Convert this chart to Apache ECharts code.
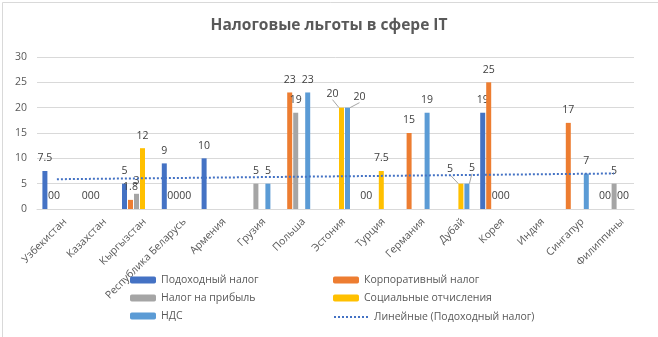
<!DOCTYPE html>
<html>
<head>
<meta charset="utf-8">
<script src="https://cdn.jsdelivr.net/npm/echarts@6/dist/echarts.min.js"></script>
<style>
html,body{margin:0;padding:0;background:#fff;}
#chart{width:658px;height:337px;}
</style>
</head>
<body>
<div id="chart"></div>
<script>
const categories = ['Узбекистан','Казахстан','Кыргызстан','Республика Беларусь','Армения','Грузия','Польша','Эстония','Турция','Германия','Дубай','Корея','Индия','Сингапур','Филиппины'];
const incomeTax    = [7.5, 0, 5, 9, 10, null, null, null, 0, null, null, 19, null, null, 0];
const corporateTax = [0, 0, 1.8, 0, null, null, 23, null, 0, 15, null, 25, null, 17, 0];
const profitTax    = [0, 0, 3, 0, null, 5, 19, null, null, null, null, 0, null, null, 5];
const socialTax    = [null, null, 12, 0, null, null, null, 20, 7.5, null, 5, 0, null, null, 0];
const vatTax       = [null, null, null, 0, null, 5, 23, 20, null, 19, 5, 0, null, 7, 0];
const yTicks = [0, 5, 10, 15, 20, 25, 30];

const seriesNames = ['Подоходный налог','Корпоративный налог','Налог на прибыль','Социальные отчисления','НДС'];
const trendName = 'Линейные (Подоходный налог)';
const colors = ['#4472C4','#ED7D31','#A5A5A5','#FFC000','#5B9BD5'];

// Linear trendline (least squares) of income tax, as Excel computes it
function linearTrend(arr){
  const pts = [];
  arr.forEach((v,i)=>{ if(v!==null && v!==undefined) pts.push([i+1,v]); });
  const n = pts.length;
  const mx = pts.reduce((s,p)=>s+p[0],0)/n;
  const my = pts.reduce((s,p)=>s+p[1],0)/n;
  let sxy=0, sxx=0;
  pts.forEach(p=>{ sxy+=(p[0]-mx)*(p[1]-my); sxx+=(p[0]-mx)*(p[0]-mx); });
  const b = sxy/sxx, a = my - b*mx;
  return arr.map((_,i)=> +(a + b*(i+1)).toFixed(4));
}
const trend = linearTrend(incomeTax);

const FONT = "'Open Sans', 'Noto Sans', sans-serif";
const TXT = '#595959';
const FS = 10.5;

// label shifts (Excel moved these labels, with leader lines)
const labelShifts = {
  '3-7': {dx:-9, dy:-1},
  '4-7': {dx:12, dy:2},
  '3-10': {dx:-11, dy:-2},
  '4-10': {dx:5, dy:-3}
};

const dataSets = [incomeTax, corporateTax, profitTax, socialTax, vatTax];
const barSeries = dataSets.map((d,i)=>({
  name: seriesNames[i],
  type: 'bar',
  data: d.map((v,j)=> labelShifts[i+'-'+j]
      ? {value: v, labelLine: {show: true, lineStyle: {color: '#a6a6a6', width: 1}}}
      : v),
  barWidth: 5,
  barGap: '20%',
  itemStyle: {color: colors[i]},
  label: {show: true, position: 'top', distance: 7, color: '#404040', fontSize: FS, fontFamily: FONT},
  labelLine: {show: false},
  labelLayout: function(p){
    const s = labelShifts[i+'-'+p.dataIndex];
    return s ? {dx: s.dx, dy: s.dy} : {};
  },
  z: 2 + i
}));

const legendText = {fontFamily: FONT, fontSize: FS, color: TXT};

const chart = echarts.init(document.getElementById('chart'), null, {renderer:'canvas'});
chart.setOption({
  backgroundColor: '#fff',
  animation: false,
  title: {
    text: 'Налоговые льготы в сфере IT',
    left: 'center', top: 13,
    textStyle: {fontFamily: FONT, fontSize: 15.5, fontWeight: 'bold', color: TXT}
  },
  graphic: [{
    type: 'rect', left: 0, top: 0, z: -1,
    shape: {width: 657, height: 336},
    style: {fill: 'none', stroke: '#d9d9d9', lineWidth: 1}
  }],
  legend: [{
    orient: 'vertical', left: 130, top: 274.5, padding: 0,
    itemWidth: 26, itemHeight: 7, itemGap: 7,
    data: [seriesNames[0], seriesNames[2], seriesNames[4]],
    textStyle: legendText
  },{
    orient: 'vertical', left: 333, top: 274.5, padding: 0,
    itemWidth: 26, itemHeight: 7, itemGap: 7,
    data: [seriesNames[1], seriesNames[3]],
    textStyle: legendText
  },{
    orient: 'vertical', left: 333, top: 311.5, padding: 0,
    itemWidth: 35, itemHeight: 7,
    data: [{name: trendName, itemStyle: {opacity: 0}}],
    textStyle: legendText
  }],
  grid: {left: 37, right: 24, top: 57, bottom: 128, containLabel: false},
  xAxis: {
    type: 'category',
    data: categories,
    boundaryGap: true,
    axisLine: {show: true, lineStyle: {color: '#d9d9d9'}},
    axisTick: {show: false},
    axisLabel: {rotate: 45, interval: 0, fontFamily: FONT, fontSize: FS, color: TXT,
      margin: 3, verticalAlign: 'top', padding: [6, 0, 0, 0]}
  },
  yAxis: {
    type: 'value',
    min: yTicks[0], max: yTicks[yTicks.length-1], interval: yTicks[1]-yTicks[0],
    axisLine: {show: false},
    axisTick: {show: false},
    splitLine: {lineStyle: {color: '#d9d9d9'}},
    axisLabel: {fontFamily: FONT, fontSize: FS, color: TXT, margin: 10}
  },
  series: barSeries.concat([{
    name: trendName,
    type: 'line',
    data: trend,
    symbol: 'none',
    silent: true,
    z: 8,
    lineStyle: {color: '#4472C4', width: 2, type: [2, 2]},
    itemStyle: {color: '#4472C4'}
  }])
});
</script>
</body>
</html>
